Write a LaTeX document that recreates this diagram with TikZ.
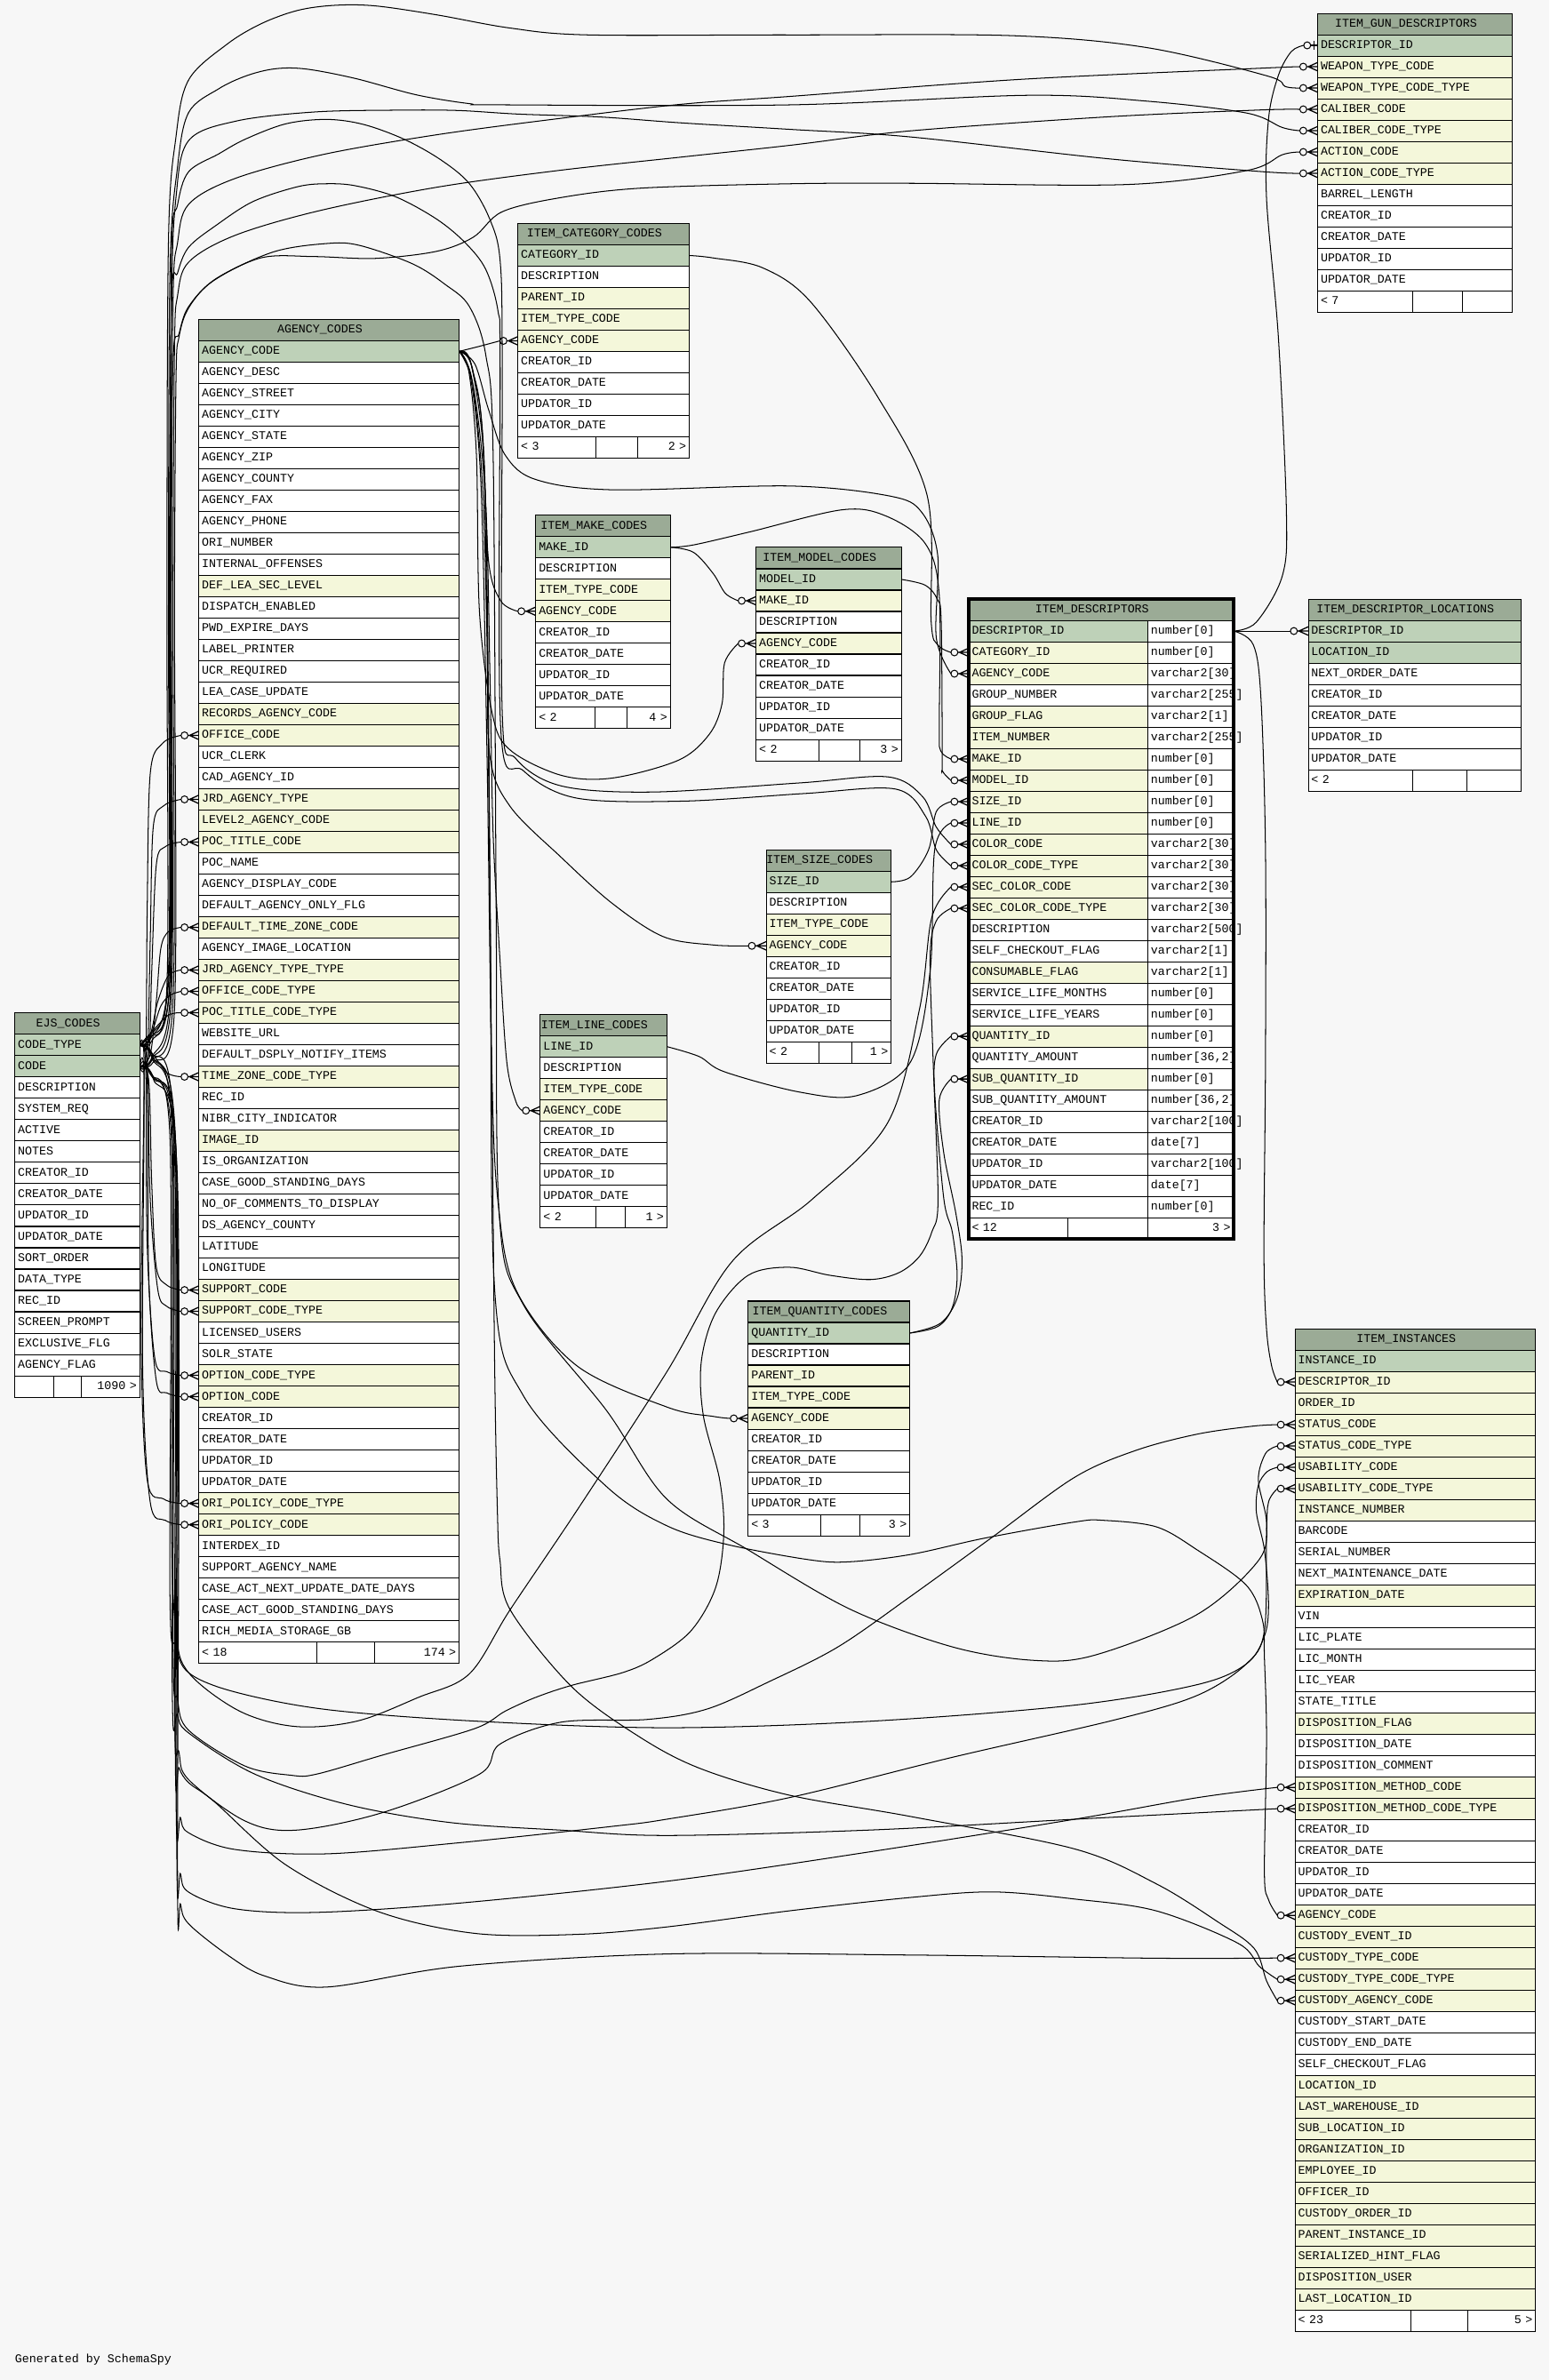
\documentclass[tikz,border=0pt]{standalone}
\usepackage{fontspec}
\newfontfamily\tabfont{Liberation Mono}
\definecolor{bgcol}{HTML}{F7F7F7}
\definecolor{hdcol}{HTML}{9BAB96}
\definecolor{pkcol}{HTML}{BED1B8}
\definecolor{ixcol}{HTML}{F4F7DA}
\pgfdeclarelayer{backdrop}
\pgfdeclarelayer{lines}
\pgfsetlayers{backdrop,lines,main}
\tikzset{
  cell/.style={draw=black, line width=0.6pt, anchor=north west, minimum height=14.06pt,
    inner xsep=2pt, inner ysep=0pt, outer sep=0pt, text height=5.4pt, text depth=1.4pt,
    align=left, font=\tabfont\fontsize{7.8}{9}\selectfont},
  conn/.style={line width=0.6pt, draw=black},
  crowo/.pic={\draw[line width=0.6pt] (-9.5,0) circle[radius=2.3pt];
     \draw[line width=0.75pt] (-7.2,0) -- (0,0) (-6.2,0) -- (0,2.8) (-6.2,0) -- (0,-2.8);},
  teeo/.pic={\draw[line width=0.6pt] (-6.9,0) circle[radius=2.3pt];
     \draw[line width=0.75pt] (-4.6,0) -- (0,0) (-2.4,-3) -- (-2.4,3);},
}
\newcommand\tablehead[6]{\node[cell, fill=hdcol, text width=#4pt] (#1-0) at (#2,#3) {\makebox[#5pt]{#6}};}
\newcommand\tablerows[5]{%
  \foreach \rc/\rt [count=\ri] in {#5}{%
    \node[cell, fill=\rc, text width=#4pt] (#1-\ri) at (#2,{#3+(\ri-1)*14.06}) {\rt};}}
\newcommand\tablefoot[8]{%
  \pgfmathsetmacro\fwa{#4-#2-4}\pgfmathsetmacro\fwb{#5-#4-4}\pgfmathsetmacro\fwc{#6-#5-4}%
  \node[cell, fill=white, text width=\fwa pt, align=left] (#1-fa) at (#2,#3) {#7};
  \node[cell, fill=white, text width=\fwb pt] (#1-fb) at (#4,#3) {};
  \node[cell, fill=white, text width=\fwc pt, align=right] (#1-fc) at (#5,#3) {#8};}
\newcommand\fklink[1]{\draw[conn] plot[smooth, tension=0.55] coordinates {#1};}
\begin{document}
\begin{tikzpicture}[x=1pt,y=-1pt]
\useasboundingbox (0,0) rectangle (1021,1568.6);
\begin{pgfonlayer}{backdrop}
\fill[bgcol] (0,0) rectangle (1021,1568.6);
\end{pgfonlayer}

% ---------- ITEM_GUN_DESCRIPTORS
\tablehead{gun}{868.4}{8.8}{124.4}{112.4}{ITEM\_GUN\_DESCRIPTORS}
\tablerows{gun}{868.4}{22.86}{124.4}{pkcol/DESCRIPTOR\_ID,ixcol/WEAPON\_TYPE\_CODE,ixcol/WEAPON\_TYPE\_CODE\_TYPE,ixcol/CALIBER\_CODE,ixcol/CALIBER\_CODE\_TYPE,ixcol/ACTION\_CODE,ixcol/ACTION\_CODE\_TYPE,white/BARREL\_LENGTH,white/CREATOR\_ID,white/CREATOR\_DATE,white/UPDATOR\_ID,white/UPDATOR\_DATE}
\tablefoot{gun}{868.4}{191.58}{930.9}{963.7}{996.8}{< 7}{}

% ---------- ITEM_CATEGORY_CODES
\tablehead{cat}{341.3}{147.3}{109}{97}{ITEM\_CATEGORY\_CODES}
\tablerows{cat}{341.3}{161.36}{109}{pkcol/CATEGORY\_ID,white/DESCRIPTION,ixcol/PARENT\_ID,ixcol/ITEM\_TYPE\_CODE,ixcol/AGENCY\_CODE,white/CREATOR\_ID,white/CREATOR\_DATE,white/UPDATOR\_ID,white/UPDATOR\_DATE}
\tablefoot{cat}{341.3}{287.9}{392.7}{420.3}{454.3}{< 3}{2 >}

% ---------- AGENCY_CODES
\tablehead{ac}{131.1}{210.5}{167.5}{155.5}{AGENCY\_CODES}
\tablerows{ac}{131.1}{224.56}{167.5}{pkcol/AGENCY\_CODE,white/AGENCY\_DESC,white/AGENCY\_STREET,white/AGENCY\_CITY,white/AGENCY\_STATE,white/AGENCY\_ZIP,white/AGENCY\_COUNTY,white/AGENCY\_FAX,white/AGENCY\_PHONE,white/ORI\_NUMBER,white/INTERNAL\_OFFENSES,ixcol/DEF\_LEA\_SEC\_LEVEL,white/DISPATCH\_ENABLED,white/PWD\_EXPIRE\_DAYS,white/LABEL\_PRINTER,white/UCR\_REQUIRED,white/LEA\_CASE\_UPDATE,ixcol/RECORDS\_AGENCY\_CODE,ixcol/OFFICE\_CODE,white/UCR\_CLERK,white/CAD\_AGENCY\_ID,ixcol/JRD\_AGENCY\_TYPE,ixcol/LEVEL2\_AGENCY\_CODE,ixcol/POC\_TITLE\_CODE,white/POC\_NAME,white/AGENCY\_DISPLAY\_CODE,white/DEFAULT\_AGENCY\_ONLY\_FLG,ixcol/DEFAULT\_TIME\_ZONE\_CODE,white/AGENCY\_IMAGE\_LOCATION,ixcol/JRD\_AGENCY\_TYPE\_TYPE,ixcol/OFFICE\_CODE\_TYPE,ixcol/POC\_TITLE\_CODE\_TYPE,white/WEBSITE\_URL,white/DEFAULT\_DSPLY\_NOTIFY\_ITEMS,ixcol/TIME\_ZONE\_CODE\_TYPE,white/REC\_ID,white/NIBR\_CITY\_INDICATOR,ixcol/IMAGE\_ID,white/IS\_ORGANIZATION,white/CASE\_GOOD\_STANDING\_DAYS,white/NO\_OF\_COMMENTS\_TO\_DISPLAY,white/DS\_AGENCY\_COUNTY,white/LATITUDE,white/LONGITUDE,ixcol/SUPPORT\_CODE,ixcol/SUPPORT\_CODE\_TYPE,white/LICENSED\_USERS,white/SOLR\_STATE,ixcol/OPTION\_CODE\_TYPE,ixcol/OPTION\_CODE,white/CREATOR\_ID,white/CREATOR\_DATE,white/UPDATOR\_ID,white/UPDATOR\_DATE,ixcol/ORI\_POLICY\_CODE\_TYPE,ixcol/ORI\_POLICY\_CODE,white/INTERDEX\_ID,white/SUPPORT\_AGENCY\_NAME,white/CASE\_ACT\_NEXT\_UPDATE\_DATE\_DAYS,white/CASE\_ACT\_GOOD\_STANDING\_DAYS,white/RICH\_MEDIA\_STORAGE\_GB}
\tablefoot{ac}{131.1}{1082.2}{208.8}{246.8}{302.6}{< 18}{174 >}

% ---------- EJS_CODES
\tablehead{ejs}{9.75}{667.7}{78.35}{66.35}{EJS\_CODES}
\tablerows{ejs}{9.75}{681.76}{78.35}{pkcol/CODE\_TYPE,pkcol/CODE,white/DESCRIPTION,white/SYSTEM\_REQ,white/ACTIVE,white/NOTES,white/CREATOR\_ID,white/CREATOR\_DATE,white/UPDATOR\_ID,white/UPDATOR\_DATE,white/SORT\_ORDER,white/DATA\_TYPE,white/REC\_ID,white/SCREEN\_PROMPT,white/EXCLUSIVE\_FLG,white/AGENCY\_FLAG}
\tablefoot{ejs}{9.75}{906.72}{35.3}{53.5}{92.1}{}{1090 >}

% ---------- ITEM_MAKE_CODES
\tablehead{mk}{353.1}{339.6}{84.7}{72.7}{ITEM\_MAKE\_CODES}
\tablerows{mk}{353.1}{353.66}{84.7}{pkcol/MAKE\_ID,white/DESCRIPTION,ixcol/ITEM\_TYPE\_CODE,ixcol/AGENCY\_CODE,white/CREATOR\_ID,white/CREATOR\_DATE,white/UPDATOR\_ID,white/UPDATOR\_DATE}
\tablefoot{mk}{353.1}{466.14}{392.4}{413.3}{441.8}{< 2}{4 >}

% ---------- ITEM_MODEL_CODES
\tablehead{md}{498.3}{360.8}{91.8}{79.8}{ITEM\_MODEL\_CODES}
\tablerows{md}{498.3}{374.86}{91.8}{pkcol/MODEL\_ID,ixcol/MAKE\_ID,white/DESCRIPTION,ixcol/AGENCY\_CODE,white/CREATOR\_ID,white/CREATOR\_DATE,white/UPDATOR\_ID,white/UPDATOR\_DATE}
\tablefoot{md}{498.3}{487.34}{540}{566.5}{594.1}{< 2}{3 >}

% ---------- ITEM_SIZE_CODES
\tablehead{sz}{505}{560.1}{78.3}{66.3}{ITEM\_SIZE\_CODES}
\tablerows{sz}{505}{574.16}{78.3}{pkcol/SIZE\_ID,white/DESCRIPTION,ixcol/ITEM\_TYPE\_CODE,ixcol/AGENCY\_CODE,white/CREATOR\_ID,white/CREATOR\_DATE,white/UPDATOR\_ID,white/UPDATOR\_DATE}
\tablefoot{sz}{505}{686.64}{540}{561.5}{587.3}{< 2}{1 >}

% ---------- ITEM_LINE_CODES
\tablehead{ln}{356.1}{668.7}{79.4}{67.4}{ITEM\_LINE\_CODES}
\tablerows{ln}{356.1}{682.76}{79.4}{pkcol/LINE\_ID,white/DESCRIPTION,ixcol/ITEM\_TYPE\_CODE,ixcol/AGENCY\_CODE,white/CREATOR\_ID,white/CREATOR\_DATE,white/UPDATOR\_ID,white/UPDATOR\_DATE}
\tablefoot{ln}{356.1}{795.24}{392.7}{412.2}{439.5}{< 2}{1 >}

% ---------- ITEM_QUANTITY_CODES
\tablehead{qt}{493.1}{857.5}{102.5}{90.5}{ITEM\_QUANTITY\_CODES}
\tablerows{qt}{493.1}{871.56}{102.5}{pkcol/QUANTITY\_ID,white/DESCRIPTION,ixcol/PARENT\_ID,ixcol/ITEM\_TYPE\_CODE,ixcol/AGENCY\_CODE,white/CREATOR\_ID,white/CREATOR\_DATE,white/UPDATOR\_ID,white/UPDATOR\_DATE}
\tablefoot{qt}{493.1}{998.1}{541}{566.8}{599.6}{< 3}{3 >}

% ---------- ITEM_DESCRIPTORS
\tablehead{id}{638.5}{394.8}{170.5}{158.5}{ITEM\_DESCRIPTORS}
\foreach \rc/\rt/\ru [count=\ri] in {pkcol/DESCRIPTOR\_ID/number[0],ixcol/CATEGORY\_ID/number[0],ixcol/AGENCY\_CODE/varchar2[30],white/GROUP\_NUMBER/varchar2[255],ixcol/GROUP\_FLAG/varchar2[1],ixcol/ITEM\_NUMBER/varchar2[255],ixcol/MAKE\_ID/number[0],ixcol/MODEL\_ID/number[0],ixcol/SIZE\_ID/number[0],ixcol/LINE\_ID/number[0],ixcol/COLOR\_CODE/varchar2[30],ixcol/COLOR\_CODE\_TYPE/varchar2[30],ixcol/SEC\_COLOR\_CODE/varchar2[30],ixcol/SEC\_COLOR\_CODE\_TYPE/varchar2[30],white/DESCRIPTION/varchar2[500],white/SELF\_CHECKOUT\_FLAG/varchar2[1],ixcol/CONSUMABLE\_FLAG/varchar2[1],white/SERVICE\_LIFE\_MONTHS/number[0],white/SERVICE\_LIFE\_YEARS/number[0],ixcol/QUANTITY\_ID/number[0],white/QUANTITY\_AMOUNT/{number[36,2]},ixcol/SUB\_QUANTITY\_ID/number[0],white/SUB\_QUANTITY\_AMOUNT/{number[36,2]},white/CREATOR\_ID/varchar2[100],white/CREATOR\_DATE/date[7],white/UPDATOR\_ID/varchar2[100],white/UPDATOR\_DATE/date[7],white/REC\_ID/number[0]}{%
  \node[cell, fill=\rc, text width=113.9pt] (id-\ri) at (638.5,{408.86+(\ri-1)*14.06}) {\rt};
  \node[cell, fill=white, text width=52.6pt] (idt-\ri) at (756.4,{408.86+(\ri-1)*14.06}) {\ru};
}
\tablefoot{id}{638.5}{802.54}{703.7}{756.4}{813}{< 12}{3 >}
\draw[line width=2pt] (id-0.north west) rectangle (id-fc.south east);

% ---------- ITEM_DESCRIPTOR_LOCATIONS
\tablehead{loc}{862.2}{394.8}{136.1}{124.1}{ITEM\_DESCRIPTOR\_LOCATIONS}
\tablerows{loc}{862.2}{408.86}{136.1}{pkcol/DESCRIPTOR\_ID,pkcol/LOCATION\_ID,white/NEXT\_ORDER\_DATE,white/CREATOR\_ID,white/CREATOR\_DATE,white/UPDATOR\_ID,white/UPDATOR\_DATE}
\tablefoot{loc}{862.2}{507.28}{931}{966.7}{1002.3}{< 2}{}

% ---------- ITEM_INSTANCES
\tablehead{in}{853.6}{875.7}{154.4}{142.4}{ITEM\_INSTANCES}
\tablerows{in}{853.6}{889.76}{154.4}{pkcol/INSTANCE\_ID,ixcol/DESCRIPTOR\_ID,ixcol/ORDER\_ID,ixcol/STATUS\_CODE,ixcol/STATUS\_CODE\_TYPE,ixcol/USABILITY\_CODE,ixcol/USABILITY\_CODE\_TYPE,ixcol/INSTANCE\_NUMBER,white/BARCODE,white/SERIAL\_NUMBER,white/NEXT\_MAINTENANCE\_DATE,ixcol/EXPIRATION\_DATE,white/VIN,white/LIC\_PLATE,white/LIC\_MONTH,white/LIC\_YEAR,white/STATE\_TITLE,ixcol/DISPOSITION\_FLAG,white/DISPOSITION\_DATE,white/DISPOSITION\_COMMENT,ixcol/DISPOSITION\_METHOD\_CODE,ixcol/DISPOSITION\_METHOD\_CODE\_TYPE,white/CREATOR\_ID,white/CREATOR\_DATE,white/UPDATOR\_ID,white/UPDATOR\_DATE,ixcol/AGENCY\_CODE,ixcol/CUSTODY\_EVENT\_ID,ixcol/CUSTODY\_TYPE\_CODE,ixcol/CUSTODY\_TYPE\_CODE\_TYPE,ixcol/CUSTODY\_AGENCY\_CODE,white/CUSTODY\_START\_DATE,white/CUSTODY\_END\_DATE,white/SELF\_CHECKOUT\_FLAG,ixcol/LOCATION\_ID,ixcol/LAST\_WAREHOUSE\_ID,ixcol/SUB\_LOCATION\_ID,ixcol/ORGANIZATION\_ID,ixcol/EMPLOYEE\_ID,ixcol/OFFICER\_ID,ixcol/CUSTODY\_ORDER\_ID,ixcol/PARENT\_INSTANCE\_ID,ixcol/SERIALIZED\_HINT\_FLAG,ixcol/DISPOSITION\_USER,ixcol/LAST\_LOCATION\_ID}
\tablefoot{in}{853.6}{1522.46}{930}{967.5}{1012}{< 23}{5 >}

\node[anchor=west, inner sep=0pt, font=\tabfont\fontsize{7.8}{9}\selectfont] (gen) at (9.75,1555) {Generated by SchemaSpy};

% ---------- connectors
\begin{pgfonlayer}{lines}
% EJS -> ITEM_GUN_DESCRIPTORS
\fklink{(ejs-1.east) (99,684) (110,650) (110,400) (111,160) (116,90) (124.3,52.7) (149.4,29.3) (172.2,15.6) (196.4,6.8) (220.6,3.5) (247.5,3.9) (287.9,9.8) (336.3,18.5) (387.4,23) (520,23) (667,23.5) (756,31.4) (835,50) (847,57) ([xshift=-11.8pt]gun-3.west)}
\fklink{(ejs-1.east) (99,685) (111,640) (111,400) (112,180) (117,110) (124.3,74.2) (144,58.6) (162.8,49.8) (181.6,45.3) (201.8,45.5) (234.1,51.7) (274.4,62.5) (309.4,68.3) (330.9,69.1) (521,69.1) (677.8,62.8) (756.3,66.7) (821.6,74.5) (845,84) ([xshift=-11.8pt]gun-5.west)}
\fklink{(ejs-1.east) (100,686) (112,645) (112,400) (113,200) (116,130) (124.3,92.7) (156.1,79.7) (207.2,73.8) (261,72.6) (301.3,72.8) (341.7,75.2) (395.5,77.1) (449.2,81) (521.3,85.3) (599.4,90.2) (730,104.6) (830,113) ([xshift=-11.8pt]gun-7.west)}
\fklink{(ejs-2.east) (100,698) (113,655) (113,400) (114,200) (117,160) (124.3,134.7) (154.7,117.7) (212.6,101.9) (287.9,88.8) (368.6,78.1) (449.2,68.7) (521.3,63.5) (672.6,52.3) (830,45) ([xshift=-11.8pt]gun-2.west)}
\fklink{(ejs-2.east) (100,699) (114,660) (114,400) (115,230) (117,195) (124.3,172.8) (154.7,155.2) (209.9,139) (287.9,123.4) (368.6,112.3) (449.2,103.5) (521.3,95.7) (599.4,86.3) (730,77) (830,72.5) ([xshift=-11.8pt]gun-4.west)}
\fklink{(ejs-2.east) (101,700) (115,665) (115,400) (116,250) (118,222) (124.3,203) (140,185.5) (172.2,169.9) (207.2,169.1) (247.5,170.3) (287.9,165.6) (312.1,156.2) (330.9,139.6) (368.6,130.4) (422.4,124) (521.3,121.1) (599.4,120.8) (743,121.6) (821.6,112.4) (845,102) ([xshift=-11.8pt]gun-6.west)}
% EJS arcs over AGENCY_CODES
\fklink{(ejs-2.east) (100,697) (112.5,650) (112.5,400) (113,170) (117,135) (124.3,113.2) (144,101.5) (161.5,91.8) (188.4,81.6) (215.3,78.7) (239.5,82) (266.4,91.8) (290.6,105.4) (309.4,121.1) (322.8,144.5) (329.6,171.8) (331,240) (331,470) (340,500) (370,518) (430,522) (527,516) (585,512) (608,525) (617,545) ([xshift=-11.8pt]id-11.west)}
\fklink{(ejs-1.east) (99,683) (111.5,640) (111.5,400) (113,200) (117,180) (124.3,163) (142.6,148.4) (166.8,132.8) (196.4,123) (215.3,121.1) (234.1,122.4) (261,129.8) (287.9,144.5) (306.7,160.1) (320.2,177.7) (328.2,205) (329.6,240) (330,480) (345,508) (380,526) (450,528) (530,523) (590,520) (610,538) (617,560) ([xshift=-11.8pt]id-12.west)}
\fklink{(ejs-1.east) (99,684) (112,645) (112,400) (114,240) (118,220) (124.3,202.1) (142.6,183.5) (180.3,166) (215.3,160.5) (236.8,161.7) (271.7,173.8) (293.3,187.4) (309.4,202.1) (320.2,234.3) (325,300) (327,600) (329,800) (345,860) (400,930) (439.3,987.8) (493.1,1021.5) (560.3,1060.6) (627.6,1085.4) (681.4,1094.3) (721.7,1090.8) (788.9,1064.1) (829.3,1028.6) (834.7,1003.8) (829.3,975.4) (834,958) ([xshift=-11.8pt]in-5.west)}
% EJS lines downwards
\fklink{(ejs-2.east) (100,708) (113,750) (113,1000) (116,1075) (124.4,1102.5) (158,1127.8) (195,1137.9) (235.4,1134.3) (275.7,1118.7) (309.3,1103.2) (336.2,1060.9) (380,995.8) (439.3,904.4) (482.3,831.6) (534.8,790.8) (585,740) (606,665) (614,605) ([xshift=-11.8pt]id-13.west)}
\fklink{(ejs-1.east) (100,694) (114,740) (114,1080) (117,1120) (124.4,1140.4) (161.4,1163.9) (191.7,1170) (208.5,1169.3) (252.2,1156.7) (312.7,1139.3) (332.9,1127.8) (353,1118.7) (376.6,1110.8) (410.2,1102.4) (430.4,1093.4) (455.4,1074.8) (471.6,1046.4) (477,1010.9) (474.3,975.4) (463.5,932.8) (462.2,897.3) (471.6,865.3) (493.1,840.5) (520,835.2) (546.9,840.5) (573.8,843.3) (592.6,838.7) (606,828) (614.1,812) (618.2,790.8) (615,700) (613,630) (617,607) ([xshift=-11.8pt]id-14.west)}
\fklink{(ejs-2.east) (100,709) (115,760) (115,1120) (118,1155) (124.4,1173) (161.4,1200.1) (195,1206.2) (252.2,1194.6) (316,1169.3) (329.5,1149.5) (369.9,1135) (427,1133.2) (466.2,1126.3) (506.5,1108.5) (552.3,1085.4) (600.7,1051.7) (654.5,1012.7) (708.3,973.6) (748.6,955.9) (789,945.2) (825,940) ([xshift=-11.8pt]in-4.west)}
\fklink{(ejs-2.east) (99,708) (112,750) (112,1050) (116,1084.4) (124.4,1102.5) (154.7,1115.1) (215.2,1126.7) (312.7,1134.3) (439.3,1138.7) (573.8,1134.4) (708.3,1123.8) (789,1110.3) (821.2,1096.8) (833.3,1078.3) (836,1057.1) (833.3,1021.5) (828,996.7) (829.3,979) (835,970) ([xshift=-11.8pt]in-6.west)}
\fklink{(ejs-1.east) (101,697) (116,760) (116,1180) (119,1198) (124.4,1208) (154.7,1218.9) (215.2,1221.8) (302.6,1214.5) (403.5,1203.7) (439.3,1199) (520,1184.8) (627.6,1158.2) (735.2,1133.4) (789,1117.4) (821.2,1096.8) (833.3,1074.8) (834.7,1010.9) (836,990) ([xshift=-11.8pt]in-7.west)}
\fklink{(ejs-1.east) (100,696) (113.5,750) (113.5,1110) (117,1130) (124.4,1142.2) (168,1169.3) (228.6,1189.2) (296,1201.1) (369.9,1206.2) (439.3,1209.7) (573.8,1206.1) (708.3,1199) (789,1194.8) ([xshift=-11.8pt]in-22.west)}
\fklink{(ejs-2.east) (101,710) (116.5,770) (116.5,1215) (119,1235) (124.4,1247.1) (154.7,1258) (208.5,1260.4) (302.6,1254.3) (439.3,1239.9) (573.8,1220.4) (708.3,1199) (789,1184.8) ([xshift=-11.8pt]in-21.west)}
\fklink{(ejs-1.east) (100,697) (115.5,760) (115.5,1150) (118,1165) (124.4,1175) (141.2,1187.4) (188.3,1229) (248.8,1259.7) (312.7,1274.2) (380,1274.9) (439.3,1270) (520,1259.4) (600.7,1250.5) (654.5,1246.9) (708.3,1251.6) (762.1,1259.4) (815.8,1280.7) (830,1296) ([xshift=-11.8pt]in-30.west)}
\fklink{(ejs-2.east) (101,711) (117,780) (117,1235) (119,1255) (124.4,1268) (151.3,1289.4) (174.8,1302.4) (215.2,1309.6) (302.6,1295.9) (439.3,1287.8) (600.7,1288.5) (762.1,1290.6) ([xshift=-11.8pt]in-29.west)}
% EJS -> AGENCY_CODES
\fklink{(ejs-2.east) (96,698) (97,600) (99,510) (107,490) ([xshift=-11.8pt]ac-19.west)}
\fklink{(ejs-2.east) (97,697) (99,620) (101,545) (108,531) ([xshift=-11.8pt]ac-22.west)}
\fklink{(ejs-2.east) (98,696) (100,640) (103,570) (109,558) ([xshift=-11.8pt]ac-24.west)}
\fklink{(ejs-2.east) (99,695) (103,660) (106,625) (111,614) ([xshift=-11.8pt]ac-28.west)}
\fklink{(ejs-1.east) (99,682) (104,660) (111,643) ([xshift=-11.8pt]ac-30.west)}
\fklink{(ejs-1.east) (100,680) (106,663) (112,656) ([xshift=-11.8pt]ac-31.west)}
\fklink{(ejs-1.east) (101,679) (111,669) ([xshift=-11.8pt]ac-32.west)}
\fklink{(ejs-1.east) (100,694) (110,707) ([xshift=-11.8pt]ac-35.west)}
\fklink{(ejs-2.east) (98,712) (100,780) (103,835) (110,847) ([xshift=-11.8pt]ac-45.west)}
\fklink{(ejs-1.east) (97,700) (99,790) (104,850) (110,861) ([xshift=-11.8pt]ac-46.west)}
\fklink{(ejs-1.east) (96,702) (97,820) (102,895) (110,904) ([xshift=-11.8pt]ac-49.west)}
\fklink{(ejs-2.east) (97,712) (98,840) (103,910) (110,918) ([xshift=-11.8pt]ac-50.west)}
\fklink{(ejs-1.east) (95,704) (93,880) (97,975) (108,988) ([xshift=-11.8pt]ac-55.west)}
\fklink{(ejs-2.east) (95,714) (94,900) (99,990) (109,1002) ([xshift=-11.8pt]ac-56.west)}
% AGENCY_CODE -> children
\fklink{(ac-1.east) (315,228.5) ([xshift=-11.8pt]cat-5.west)}
\fklink{(ac-1.east) (310,238) (318,290) (322,370) (330,396) ([xshift=-11.8pt]mk-4.west)}
\fklink{(ac-1.east) (309,245) (314,300) (316,403.5) (324.5,470.7) (336.2,494.3) (369.9,511) (403.5,512.8) (447.2,501) (467.4,484) (475.8,464) (477.5,437) ([xshift=-11.8pt]md-4.west)}
\fklink{(ac-1.east) (311,250) (318,320) (321,420) (322.8,497.9) (336.2,531.5) (369.9,565.1) (403.5,595.4) (437.1,617.3) (470,622.8) ([xshift=-11.8pt]sz-4.west)}
\fklink{(ac-1.east) (312,255) (320,330) (323,450) (325,550) (329.5,632.4) (334,700) (340,726) ([xshift=-11.8pt]ln-4.west)}
\fklink{(ac-1.east) (310,248) (317,320) (321,500) (324,700) (328,790) (340,850) (380,900) (440,927.5) (470,933.5) ([xshift=-11.8pt]qt-5.west)}
\fklink{(ac-1.east) (313,240) (322,270) (333,300) (353,316) (403.5,322.8) (520.9,320.3) (586.3,326.9) (607.2,337.3) (618,366) (617,420) ([xshift=-11.8pt]id-3.west)}
\fklink{(ac-1.east) (311,242) (319,310) (323,600) (326,850) (345,920) (400,980) (439.3,1005.5) (479.6,1018) (533.4,1028) (560.3,1029.3) (600.7,1024.4) (649.1,1013.7) (708.3,1003.1) (727.1,1002) (762.1,1006.3) (789,1021.5) (821.2,1044.6) (832,1067.7) (833.3,1092.5) (834.7,1145.8) (833.3,1234.5) (836,1252) ([xshift=-11.8pt]in-27.west)}
\fklink{(ac-1.east) (312,246) (320,330) (324,700) (326,900) (327.8,995.8) (329.5,1028.3) (336.2,1060.9) (376.6,1111.5) (420.3,1144) (460.8,1165.3) (520,1183.1) (600.7,1197.3) (708.3,1218.6) (762.1,1241.6) (802.4,1266.5) (826.6,1284.2) (834.7,1305.5) ([xshift=-11.8pt]in-31.west)}
% code tables -> ITEM_DESCRIPTORS
\fklink{(cat-1.east) (470,170) (502.6,176.5) (534,198.7) (578.4,261.5) (611.1,326.9) (613.7,410) (618,425) ([xshift=-11.8pt]id-2.west)}
\fklink{(mk-1.east) (457,364) (470,378) (478,391) ([xshift=-11.8pt]md-2.west)}
\fklink{(mk-1.east) (457.3,359.1) (494.8,350.4) (554.9,336) (583.7,340) (609.8,358.3) (619,392.3) (619,480) (620,495) ([xshift=-11.8pt]id-7.west)}
\fklink{(md-1.east) (609.8,385.7) (617.7,394.9) (620.3,410) (621,500) (621,508) ([xshift=-11.8pt]id-8.west)}
\fklink{(sz-1.east) (600,578) (612,560) (617,535) ([xshift=-11.8pt]id-9.west)}
\fklink{(ln-1.east) (460.7,696.3) (477.5,706.4) (527.2,719.8) (565,722) (600,700) (613,640) (616,560) ([xshift=-11.8pt]id-10.west)}
\fklink{(qt-1.east) (618.2,874.2) (627.6,861.8) (630.8,840.5) (627.6,812) (622,790) (616,720) (617,695) ([xshift=-11.8pt]id-20.west)}
\fklink{(qt-1.east) (620,872) (631,855) (634,830) (630,800) (622,760) (619,725) ([xshift=-11.8pt]id-22.west)}
% ITEM_DESCRIPTORS.DESCRIPTOR_ID -> children
\fklink{(idt-1.east) (828,410) (845.2,379.2) (847.8,337.3) (842.5,222.3) (834.7,130.8) (836,78.5) (842.5,49.7) (851,34) ([xshift=-9.2pt]gun-1.west)}
\draw[conn] (idt-1.east) -- ([xshift=-11.8pt]loc-1.west);
\fklink{(idt-1.east) (826,425) (831,460) (834,560) (834,700) (833,826) (834.7,876) (838,900) ([xshift=-11.8pt]in-2.west)}
\end{pgfonlayer}

% ---------- crow's feet
\foreach \n in {gun-2,gun-3,gun-4,gun-5,gun-6,gun-7,cat-5,mk-4,md-2,md-4,sz-4,ln-4,qt-5,id-2,id-3,id-7,id-8,id-9,id-10,id-11,id-12,id-13,id-14,id-20,id-22,loc-1,in-2,in-4,in-5,in-6,in-7,in-21,in-22,in-27,in-29,in-30,in-31,ac-19,ac-22,ac-24,ac-28,ac-30,ac-31,ac-32,ac-35,ac-45,ac-46,ac-49,ac-50,ac-55,ac-56}{\pic at (\n.west) {crowo};}
\pic at (gun-1.west) {teeo};
\end{tikzpicture}
\end{document}
